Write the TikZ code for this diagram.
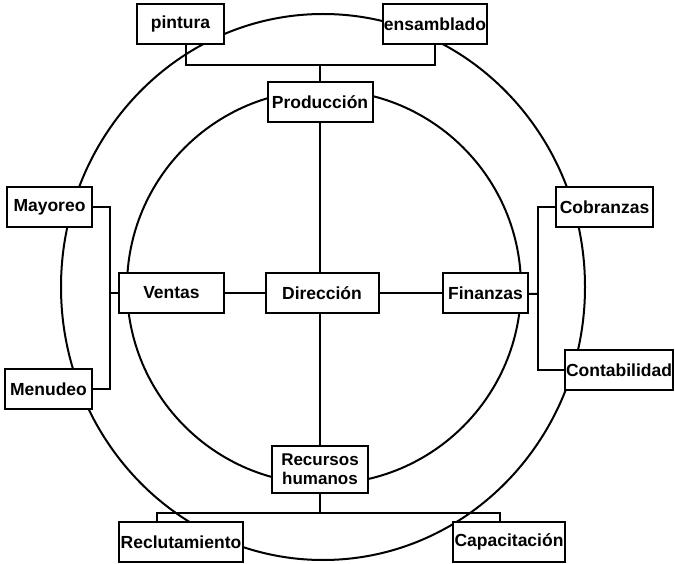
\documentclass[tikz,border=0pt]{standalone}
\usepackage{fontspec}
\setmainfont{Liberation Sans}
\usepackage{tikz}

\tikzset{
  caja/.style={draw, fill=white, line width=2pt, inner sep=1pt,
    minimum height=40pt, align=center,
    font=\fontsize{17.5}{18}\selectfont\bfseries},
  linea/.style={line width=2pt}
}

\begin{document}
\begin{tikzpicture}[x=1pt, y=-1pt]
\useasboundingbox (0,0) rectangle (675,564);

% circulos
\draw[linea] (323,287) ellipse [x radius=262pt, y radius=273pt];
\draw[linea] (324,287) circle [radius=197pt];

% cajas
\foreach \n/\x/\y/\w/\t in {pintura/180.5/24/87/pintura, ensamblado/435/24/84/ensamblado,
    produccion/320/102/105/Producción, direccion/322/293/113/Dirección,
    ventas/171.5/293/105/Ventas, finanzas/485.5/293/85/Finanzas,
    mayoreo/49.5/207/85/Mayoreo, menudeo/48.5/389/87/Menudeo,
    cobranzas/604.5/207.5/97/Cobranzas, contabilidad/619/370/106/Contabilidad,
    reclutamiento/181/542/124/Reclutamiento, capacitacion/509/542/112/Capacitación}
    \node[caja, minimum width=\w pt] (\n) at (\x,\y) {\t};
\node[caja, minimum width=96pt, minimum height=47pt,
  font=\fontsize{17}{19}\selectfont\bfseries] (recursos) at (320,469.5) {Recursos\\humanos};

% puntos de las ramas
\coordinate (arriba) at (320,65);
\coordinate (abajo) at (320,513);
\coordinate (izq) at (110,293);
\coordinate (der) at (538,294);

% conexiones
\draw[linea] (ventas) -- (direccion) -- (finanzas);
\draw[linea] (produccion) -- (produccion |- direccion.north);
\draw[linea] (produccion |- direccion.south) -- (recursos);
\draw[linea] ([xshift=5.5pt]pintura.south) |- (arriba) -| (ensamblado.south);
\draw[linea] (arriba) -- (produccion);
\draw[linea] (mayoreo) -| (izq) |- (menudeo);
\draw[linea] (izq) -- (ventas);
\draw[linea] (cobranzas) -| (der) |- (contabilidad);
\draw[linea] (der) -- (finanzas);
\draw[linea] ([xshift=-24pt]reclutamiento.north) |- (abajo) -| ([xshift=-9pt]capacitacion.north);
\draw[linea] (abajo) -- (recursos);
\end{tikzpicture}
\end{document}
